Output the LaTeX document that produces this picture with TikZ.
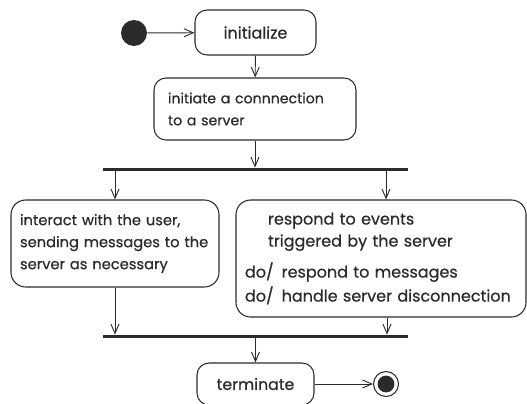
\documentclass[tikz,border=0pt]{standalone}
\usepackage{fontspec}
\setmainfont{Poppins}[FakeBold=0.6]
\usetikzlibrary{arrows.meta}
\definecolor{ink}{HTML}{2B2B2B}
\begin{document}
\begin{tikzpicture}[x=0.75pt,y=-0.75pt,
  every node/.style={font=\fontsize{11}{16.5}\selectfont, text=ink},
  big/.style={font=\fontsize{12}{16.5}\selectfont},
  act/.style={draw=ink, line width=0.8pt, rounded corners=9pt, inner sep=0pt},
  arr/.style={draw=ink, line width=0.7pt, -{Straight Barb[length=7pt,width=6pt]}},
  bar/.style={fill=ink, inner sep=0pt, minimum width=228.75pt, minimum height=2.4pt},
]
\useasboundingbox (0,0) rectangle (527,403);
\node[circle, fill=ink, minimum size=19.5pt, inner sep=0pt] (start) at (134,33) {};
\node[act, big, minimum width=90.75pt, minimum height=33.75pt] (init) at (255.5,32.5) {initialize};
\node[act, font=\fontsize{10.6}{16.5}\selectfont, minimum width=151.5pt, minimum height=46.5pt, text width=130.5pt, align=left] (conn) at (255,109) {initiate a connnection\\to a server};
\node[bar] (fork) at (255.5,169.5) {};
\node[act, rounded corners=11pt, minimum width=156pt, minimum height=65.25pt, text width=142.5pt, align=left] (left) at (115,243.5) {interact with the user,\\sending messages to the\\server as necessary};
\node[act, big, rounded corners=11pt, minimum width=217.5pt, minimum height=87.75pt, text width=204pt, align=left] (right) at (381,258.5) {\hspace*{17.25pt}respond to events\\\hspace*{17.25pt}triggered by the server\\[6.75pt]do/\hspace{6pt}respond to messages\\[1.5pt]do/\hspace{6pt}handle server disconnection};
\node[bar] (join) at (255.5,336.5) {};
\node[act, font=\fontsize{11.8}{16.5}\selectfont, minimum width=87.75pt, minimum height=31.5pt] (term) at (255.5,384) {terminate};
\node[circle, draw=ink, line width=0.8pt, minimum size=18.75pt, inner sep=0pt,
  path picture={\fill[ink] (path picture bounding box.center) circle (6.3pt);}] (end) at (386,384) {};
\coordinate (rtop) at (386,0);
\coordinate (rbot) at (387,0);
\draw[arr] (start) -- (init);
\draw[arr] (init) -- (conn);
\draw[arr] (conn.south) -- (conn.south |- fork.north);
\draw[arr] (fork.south -| left.north) -- (left.north);
\draw[arr] (fork.south -| rtop) -- (rtop |- right.north);
\draw[arr] (left.south) -- (left.south |- join.north);
\draw[arr] (right.south -| rbot) -- (rbot |- join.north);
\draw[arr] (join.south -| term.north) -- (term.north);
\draw[arr] (term) -- (end);
\end{tikzpicture}
\end{document}
